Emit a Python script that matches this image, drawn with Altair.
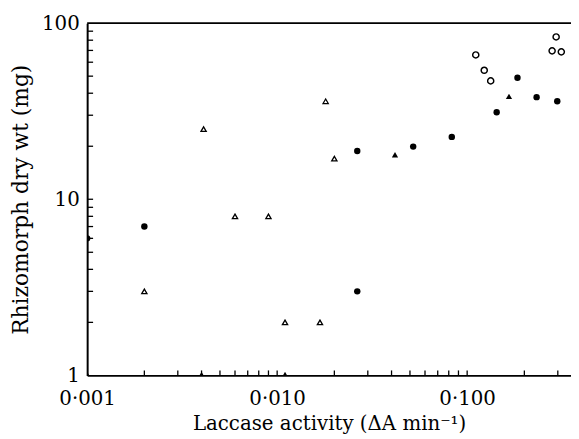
import altair as alt
import pandas as pd

# Filled circles
fc_x = [0.001, 0.002, 0.0264, 0.0264, 0.052, 0.083, 0.143, 0.184, 0.232, 0.298]
fc_y = [6.0, 7.0, 18.8, 3.0, 19.9, 22.6, 31.2, 49.0, 38.0, 36.0]
# Filled triangles
ft_x = [0.0417, 0.166]
ft_y = [17.9, 38.4]
# Open triangles
ot_x = [0.001, 0.002, 0.0041, 0.004, 0.006, 0.009, 0.011, 0.011, 0.0168, 0.018, 0.020]
ot_y = [1.0, 3.0, 25.0, 1.0, 8.0, 8.0, 2.0, 1.0, 2.0, 36.0, 17.0]
# Open circles
oc_x = [0.111, 0.123, 0.133, 0.294, 0.28, 0.313]
oc_y = [66.0, 54.0, 47.0, 83.5, 69.6, 68.7]

x_major = [0.001, 0.01, 0.1]
y_major = [1, 10, 100]
x_minor = [m * d for d in (0.001, 0.01, 0.1) for m in range(2, 10)]
x_minor = [v for v in x_minor if v <= 0.35] + [0.01, 0.1]
y_minor = [m * d for d in (1, 10) for m in range(2, 10)] + [10]

W, H = 489, 356
FONT = "DejaVu Serif"

xs = alt.Scale(type="log", domain=[0.001, 0.352], nice=False)
ys = alt.Scale(type="log", domain=[1, 100], nice=False)

xaxis = alt.Axis(values=x_major, ticks=False, grid=False, domainWidth=2, domainColor="black",
                 labelFont=FONT, labelFontSize=20, labelColor="black", labelPadding=13,
                 labelExpr="replace(format(datum.value, '.3f'), '.', '·')",
                 title="Laccase activity (ΔA min⁻¹)", titleFont=FONT, titleFontSize=20,
                 titleFontWeight="normal", titleColor="black", titlePadding=6,
                 labelOverlap=False, labelFlush=False)
yaxis = alt.Axis(values=y_major, ticks=False, grid=False, domainWidth=2, domainColor="black",
                 labelFont=FONT, labelFontSize=20, labelColor="black", labelPadding=8,
                 format="d", title="Rhizomorph dry wt (mg)", titleFont=FONT, titleFontSize=22,
                 titleFontWeight="normal", titleColor="black", titlePadding=9,
                 labelOverlap=False)

X = alt.X("x:Q", scale=xs, axis=xaxis)
Y = alt.Y("y:Q", scale=ys, axis=yaxis)

def pts(xv, yv):
    return pd.DataFrame({"x": xv, "y": yv})

def layer(df, shape, filled, size, sw=1.4):
    return alt.Chart(df).mark_point(shape=shape, filled=filled, size=size, color="black",
                                    strokeWidth=sw, opacity=1, clip=True).encode(x=X, y=Y)

fc = layer(pts(fc_x, fc_y), "circle", True, 42)
ft = layer(pts(ft_x, ft_y), "triangle-up", True, 40)
ot = layer(pts(ot_x, ot_y), "triangle-up", False, 28, sw=1.3)
oc = layer(pts(oc_x, oc_y), "circle", False, 38, sw=1.5)

xt = alt.Chart(pd.DataFrame({"x": x_minor})).mark_rule(color="black", strokeWidth=1.3).encode(
    x=X, y=alt.value(H), y2=alt.value(H - 5))
yt = alt.Chart(pd.DataFrame({"y": y_minor})).mark_rule(color="black", strokeWidth=1.3).encode(
    y=Y, x=alt.value(0), x2=alt.value(6))
top = alt.Chart(pd.DataFrame({"v": [0]})).mark_rule(color="black", strokeWidth=2).encode(
    x=alt.value(0), x2=alt.value(W), y=alt.value(0))

chart = alt.layer(fc, ft, ot, oc, xt, yt, top).properties(
    width=W, height=H,
    autosize=alt.AutoSizeParams(type="none"),
    padding={"left": 80, "top": 13, "right": 0, "bottom": 62},
    background="white",
).configure_view(stroke=None)

chart.save("out.html", embed_options={"renderer": "svg", "actions": False})
